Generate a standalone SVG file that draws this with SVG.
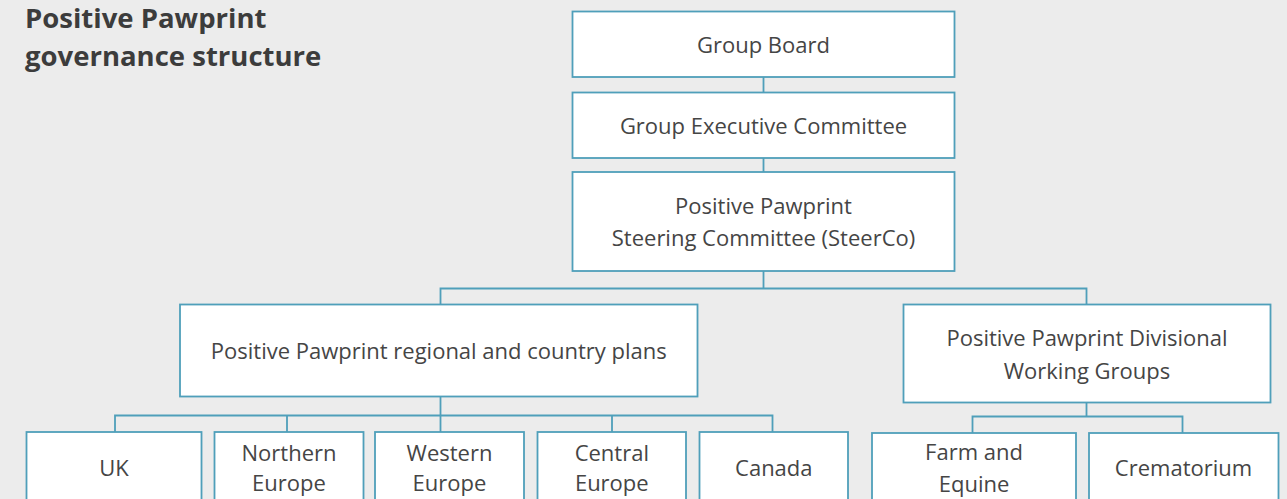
<svg xmlns="http://www.w3.org/2000/svg" width="1287" height="499" viewBox="0 0 1287 499">
  <style>
    .box { fill: #ffffff; stroke: #4f9fba; stroke-width: 1.8; }
    .wire { fill: none; stroke: #4f9fba; stroke-width: 1.8; }
    .lbl { font-family: "Open Sans", "Liberation Sans", sans-serif; font-size: 22px; fill: #454545; text-anchor: middle; }
    .title { font-family: "Open Sans", "Liberation Sans", sans-serif; font-size: 27.5px; font-weight: bold; fill: #3c3c3c; }
  </style>
  <rect x="0" y="0" width="1287" height="499" fill="#ececec"/>

  <text class="title" x="25" y="28">Positive Pawprint<tspan x="25" y="66">governance structure</tspan></text>

  <!-- connectors -->
  <g id="connectors">
    <line class="wire" x1="763.5" y1="77" x2="763.5" y2="92.5"/>
    <line class="wire" x1="763.5" y1="158" x2="763.5" y2="172"/>
    <line class="wire" x1="763.5" y1="271" x2="763.5" y2="288.5"/>
    <polyline class="wire" points="440.5,304.5 440.5,288.5 1086.5,288.5 1086.5,304.5"/>
    <line class="wire" x1="440.5" y1="396.5" x2="440.5" y2="432"/>
    <polyline class="wire" points="115,432 115,415.5 772.5,415.5 772.5,432"/>
    <line class="wire" x1="287" y1="415.5" x2="287" y2="432"/>
    <line class="wire" x1="612" y1="415.5" x2="612" y2="432"/>
    <line class="wire" x1="1086.5" y1="402.5" x2="1086.5" y2="416.5"/>
    <polyline class="wire" points="972.5,433 972.5,416.5 1182.5,416.5 1182.5,433"/>
  </g>

  <g id="group-board">
    <rect class="box" x="572.5" y="11.5" width="382" height="65.5"/>
    <text class="lbl" x="763.5" y="52.5">Group Board</text>
  </g>

  <g id="group-executive-committee">
    <rect class="box" x="572.5" y="92.5" width="382" height="65.5"/>
    <text class="lbl" x="763.5" y="133.5">Group Executive Committee</text>
  </g>

  <g id="steerco">
    <rect class="box" x="572.5" y="172" width="382" height="99"/>
    <text class="lbl" x="763.5" y="214">Positive Pawprint<tspan x="763.5" y="246">Steering Committee (SteerCo)</tspan></text>
  </g>

  <g id="regional-plans">
    <rect class="box" x="180" y="304.5" width="517.5" height="92"/>
    <text class="lbl" x="438.8" y="359">Positive Pawprint regional and country plans</text>
  </g>

  <g id="divisional-groups">
    <rect class="box" x="903.5" y="304.5" width="367" height="98"/>
    <text class="lbl" x="1087" y="346">Positive Pawprint Divisional<tspan x="1087" y="379">Working Groups</tspan></text>
  </g>

  <g id="uk">
    <rect class="box" x="26.5" y="432" width="175" height="80"/>
    <text class="lbl" x="114" y="475.5">UK</text>
  </g>

  <g id="northern-europe">
    <rect class="box" x="214.5" y="432" width="149" height="80"/>
    <text class="lbl" x="289" y="460.5">Northern<tspan x="289" y="491">Europe</tspan></text>
  </g>

  <g id="western-europe">
    <rect class="box" x="375" y="432" width="149" height="80"/>
    <text class="lbl" x="449.5" y="460.5">Western<tspan x="449.5" y="491">Europe</tspan></text>
  </g>

  <g id="central-europe">
    <rect class="box" x="537.5" y="432" width="148.5" height="80"/>
    <text class="lbl" x="611.8" y="460.5">Central<tspan x="611.8" y="491">Europe</tspan></text>
  </g>

  <g id="canada">
    <rect class="box" x="699.5" y="432" width="148.5" height="80"/>
    <text class="lbl" x="773.8" y="475.5">Canada</text>
  </g>

  <g id="farm-equine">
    <rect class="box" x="872" y="433" width="204" height="80"/>
    <text class="lbl" x="974" y="460">Farm and<tspan x="974" y="492">Equine</tspan></text>
  </g>

  <g id="crematorium">
    <rect class="box" x="1089" y="433" width="189.5" height="80"/>
    <text class="lbl" x="1183.5" y="475.5">Crematorium</text>
  </g>
</svg>
